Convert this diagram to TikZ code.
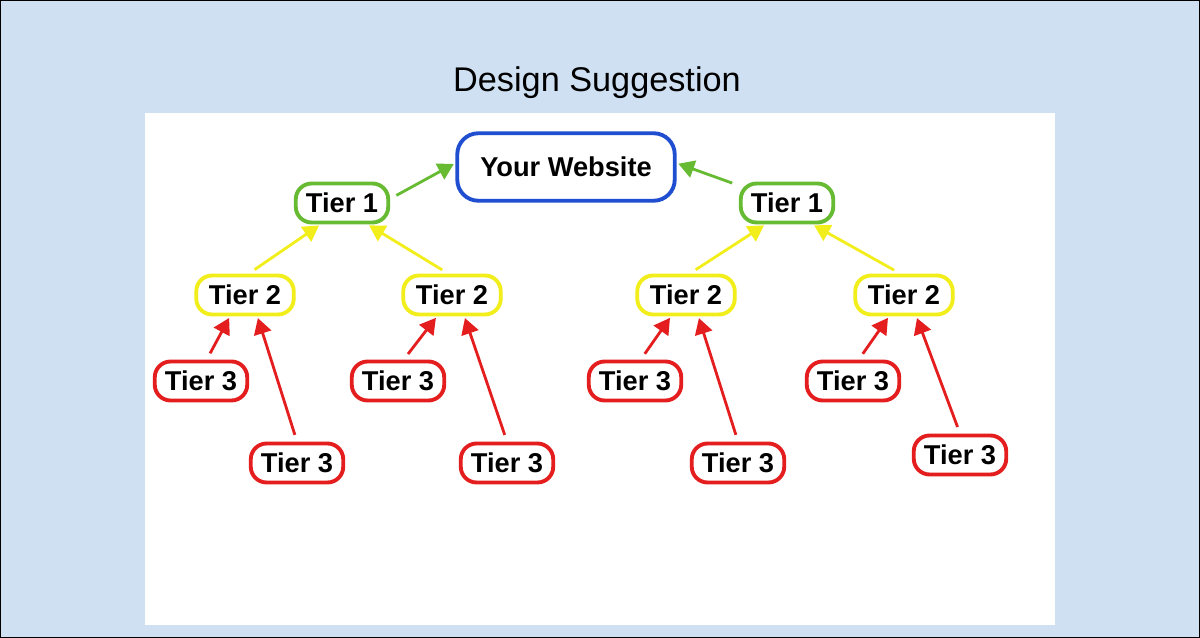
\documentclass[tikz,border=0pt]{standalone}
\usepackage{fontspec}
\setmainfont{Liberation Sans}
\usetikzlibrary{arrows.meta}
\definecolor{pagebg}{HTML}{CFE0F2}
\definecolor{sitecol}{HTML}{1F4FD0}
\definecolor{tonecol}{HTML}{66BB33}
\definecolor{ttwocol}{HTML}{F2EE1C}
\definecolor{tthreecol}{HTML}{E41E1E}
\tikzstyle{tierbox} = [rectangle, rounded corners=9pt, line width=2.2pt, fill=white, font=\bfseries\fontsize{15.5}{18}\selectfont, minimum width=1.85cm, minimum height=0.78cm, inner xsep=2pt]
\tikzstyle{site} = [tierbox, draw=sitecol, rounded corners=12pt, minimum width=4.35cm, minimum height=1.35cm]
\tikzstyle{one} = [tierbox, draw=tonecol]
\tikzstyle{two} = [tierbox, draw=ttwocol, minimum width=1.95cm]
\tikzstyle{three} = [tierbox, draw=tthreecol]
\tikzstyle{link} = [line width=1.6pt, -{Triangle[length=9pt, width=10pt]}, shorten <=4pt, shorten >=1pt]
\begin{document}
\begin{tikzpicture}[x=0.02cm, y=-0.02cm]
      \useasboundingbox (0,0) rectangle (1200,638);
      \fill[pagebg] (0,0) rectangle (1200,638);
      \draw[line width=1pt] (0.5,0.5) rectangle (1199.5,637.5);
      \node (title) at (597,83) {\fontsize{19.5}{23}\selectfont Design Suggestion};
      \fill[white] (145,113) rectangle (1055,625);
      % top and first tier
      \node (web) [site] at (566,167) {Your Website};
      \node (oneL) [one] at (342,203) {Tier 1};
      \node (oneR) [one] at (787,203) {Tier 1};
      % second tier
      \node (twoA) [two] at (245,295) {Tier 2};
      \node (twoB) [two] at (452,295) {Tier 2};
      \node (twoC) [two] at (686,295) {Tier 2};
      \node (twoD) [two] at (904,295) {Tier 2};
      % third tier
      \node (thrA) [three] at (201,381) {Tier 3};
      \node (thrB) [three] at (297,463) {Tier 3};
      \node (thrC) [three] at (398,381) {Tier 3};
      \node (thrD) [three] at (507,463) {Tier 3};
      \node (thrE) [three] at (635,381) {Tier 3};
      \node (thrF) [three] at (738,463) {Tier 3};
      \node (thrG) [three] at (853,381) {Tier 3};
      \node (thrH) [three] at (960,455) {Tier 3};
      \draw [link, tonecol] (oneL.5) -- (web.178);
      \draw [link, tonecol] (oneR.160) -- (web.2);
      \draw [link, ttwocol] (twoA.80) -- (oneL.225);
      \draw [link, ttwocol] (twoB.100) -- (oneL.320);
      \draw [link, ttwocol] (twoC.80) -- (oneR.225);
      \draw [link, ttwocol] (twoD.100) -- (oneR.320);
      \draw [link, tthreecol] (thrA.75) -- (twoA.235);
      \draw [link, tthreecol] (thrB.north) -- (twoA.300);
      \draw [link, tthreecol] (thrC.75) -- (twoB.235);
      \draw [link, tthreecol] (thrD.north) -- (twoB.300);
      \draw [link, tthreecol] (thrE.75) -- (twoC.235);
      \draw [link, tthreecol] (thrF.north) -- (twoC.300);
      \draw [link, tthreecol] (thrG.75) -- (twoD.235);
      \draw [link, tthreecol] (thrH.north) -- (twoD.300);
    \end{tikzpicture}
\end{document}
